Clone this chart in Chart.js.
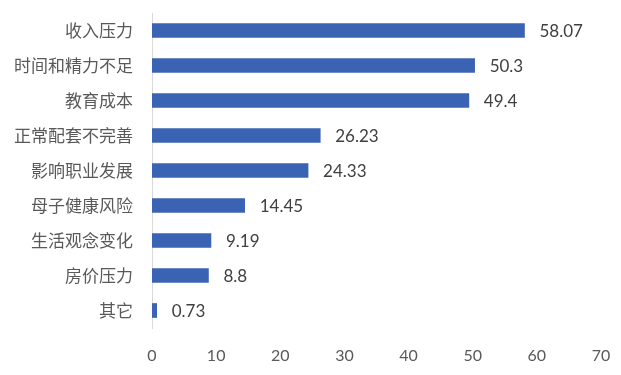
<!DOCTYPE html>
<html>
<head>
<meta charset="utf-8">
<script src="https://cdn.jsdelivr.net/npm/chart.js@4/dist/chart.umd.min.js"></script>
<style>
  html, body { margin: 0; padding: 0; background: #fff; }
  #wrap { width: 621px; height: 375px; }
</style>
</head>
<body>
<div id="wrap"><canvas id="myChart"></canvas></div>
<script>
// categories and values, top to bottom
var categories = ['收入压力', '时间和精力不足', '教育成本', '正常配套不完善', '影响职业发展', '母子健康风险', '生活观念变化', '房价压力', '其它'];
var values = [58.07, 50.3, 49.4, 26.23, 24.33, 14.45, 9.19, 8.8, 0.73];
var valueLabels = ['58.07', '50.3', '49.4', '26.23', '24.33', '14.45', '9.19', '8.8', '0.73'];
var xTicks = [0, 10, 20, 30, 40, 50, 60, 70];

var barColor = '#3b63b3';

// draw value text right of each bar
var valueLabelPlugin = {
  id: 'valueLabels',
  afterDatasetsDraw: function(chart) {
    var ctx = chart.ctx;
    var meta = chart.getDatasetMeta(0);
    ctx.save();
    ctx.font = '17px Lato, "Noto Sans CJK SC", sans-serif';
    ctx.fillStyle = '#404040';
    ctx.textAlign = 'left';
    ctx.textBaseline = 'middle';
    meta.data.forEach(function(bar, i) {
      ctx.fillText(valueLabels[i], bar.x + 15, bar.y + 1);
    });
    ctx.restore();
  }
};

new Chart('myChart', {
  type: 'bar',
  data: {
    labels: categories,
    datasets: [{
      data: values,
      backgroundColor: barColor,
      barThickness: 14
    }]
  },
  options: {
    indexAxis: 'y',
    responsive: true,
    maintainAspectRatio: false,
    animation: false,
    layout: { padding: { top: 13, right: 20, left: 0, bottom: 0 } },
    plugins: {
      legend: { display: false },
      tooltip: { enabled: false }
    },
    scales: {
      x: {
        min: xTicks[0],
        max: xTicks[xTicks.length - 1],
        afterBuildTicks: function(s) { s.ticks = xTicks.map(function(v) { return { value: v }; }); },
        afterFit: function(s) { s.height = 47; s.paddingLeft = 0; s.paddingRight = 0; },
        grid: { display: false, drawTicks: false },
        border: { display: false },
        ticks: {
          padding: 18,
          color: '#595959',
          font: { family: 'Lato, "Noto Sans CJK SC", sans-serif', size: 16 }
        }
      },
      y: {
        afterFit: function(s) { s.width = 152; s.paddingTop = 0; s.paddingBottom = 0; },
        grid: { display: false, drawTicks: false },
        border: { display: true, color: '#d9d9d9', width: 1 },
        ticks: {
          padding: 19,
          color: '#595959',
          font: { family: '"Noto Sans CJK SC", sans-serif', size: 17 }
        }
      }
    }
  },
  plugins: [valueLabelPlugin]
});
</script>
</body>
</html>
